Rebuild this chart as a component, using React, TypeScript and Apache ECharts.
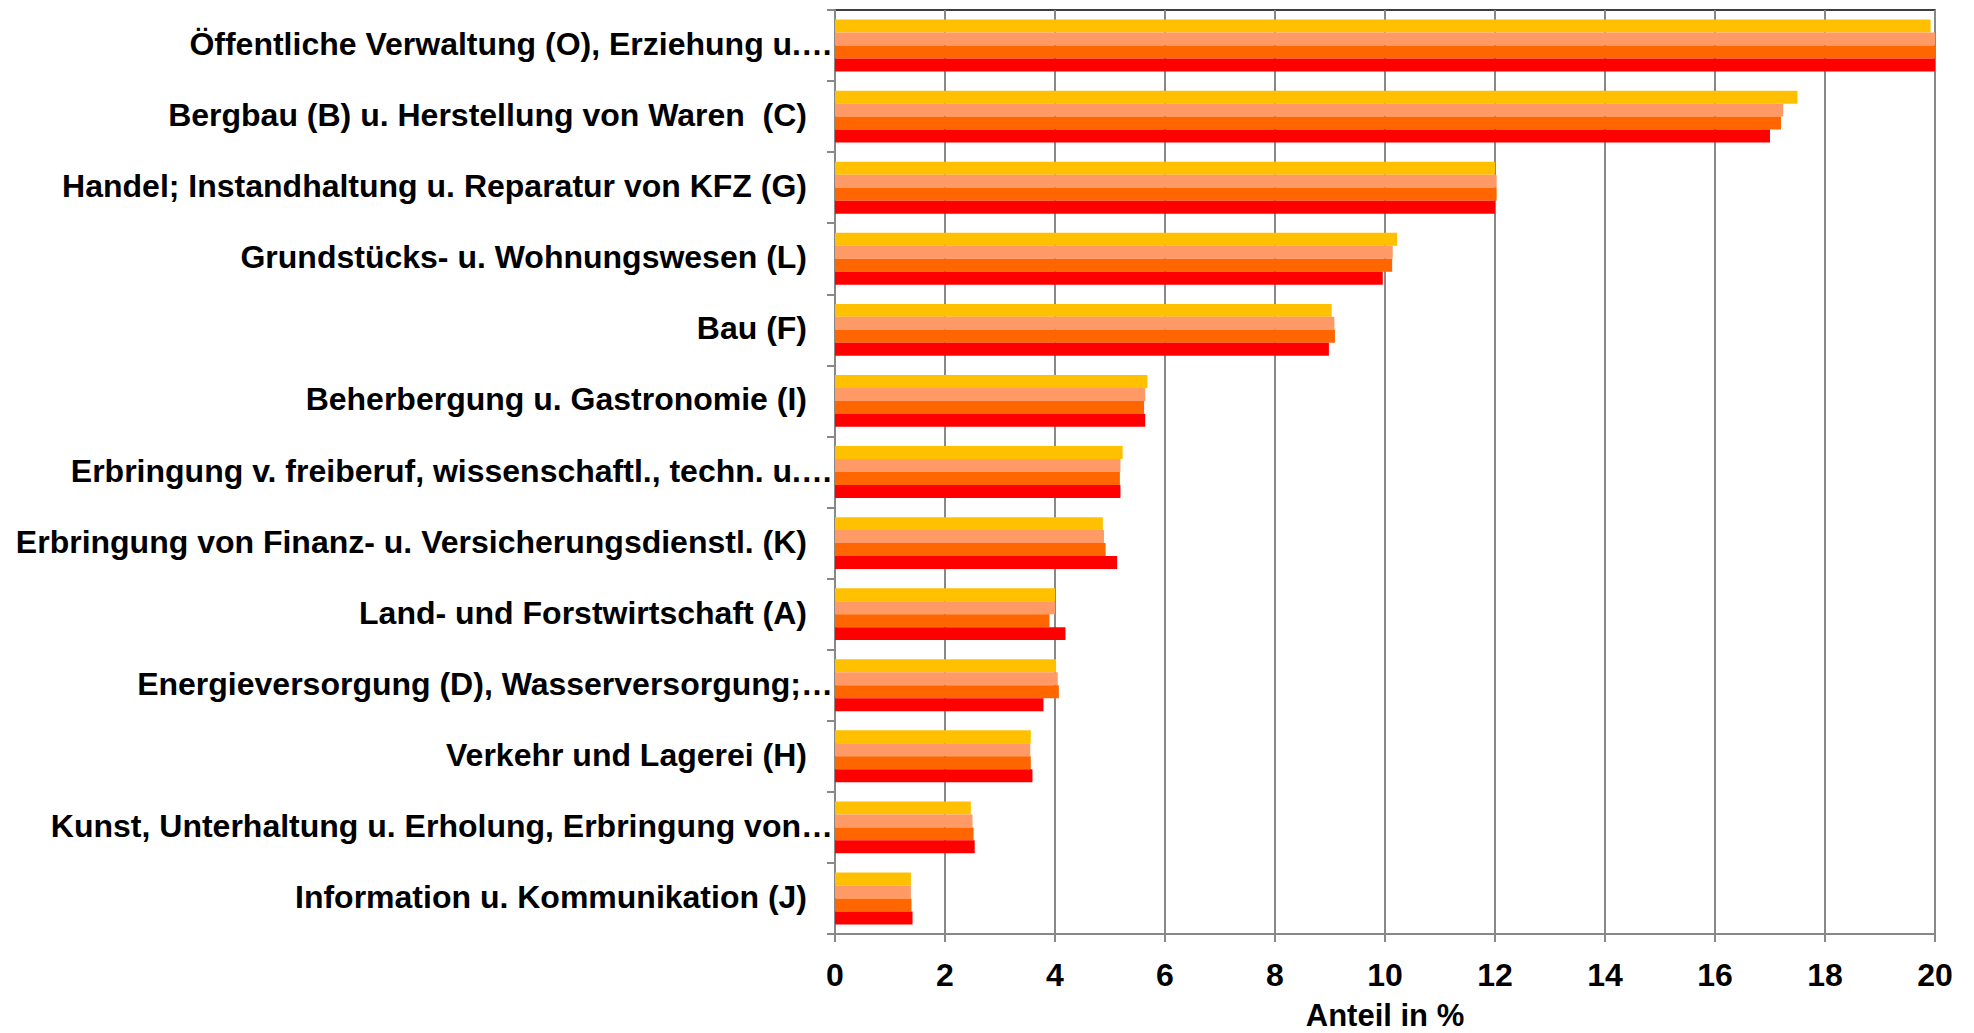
import React, { useEffect, useRef } from "react";
import * as echarts from "echarts";

const categories = [
  "Öffentliche Verwaltung (O), Erziehung u.…",
  "Bergbau (B) u. Herstellung von Waren  (C)",
  "Handel; Instandhaltung u. Reparatur von KFZ (G)",
  "Grundstücks- u. Wohnungswesen (L)",
  "Bau (F)",
  "Beherbergung u. Gastronomie (I)",
  "Erbringung v. freiberuf, wissenschaftl., techn. u.…",
  "Erbringung von Finanz- u. Versicherungsdienstl. (K)",
  "Land- und Forstwirtschaft (A)",
  "Energieversorgung (D), Wasserversorgung;…",
  "Verkehr und Lagerei (H)",
  "Kunst, Unterhaltung u. Erholung, Erbringung von…",
  "Information u. Kommunikation (J)",
];

const seriesYellow = [19.92, 17.5, 12.0, 10.22, 9.03, 5.68, 5.23, 4.87, 4.0, 4.02, 3.56, 2.47, 1.38];
const seriesSalmon = [20.0, 17.24, 12.03, 10.14, 9.08, 5.64, 5.19, 4.89, 4.0, 4.05, 3.55, 2.5, 1.38];
const seriesOrange = [20.0, 17.2, 12.03, 10.13, 9.09, 5.62, 5.18, 4.92, 3.9, 4.07, 3.56, 2.52, 1.39];
const seriesRed = [20.0, 17.0, 12.0, 9.96, 8.98, 5.64, 5.19, 5.13, 4.19, 3.79, 3.59, 2.54, 1.41];

const xTicks = [0, 2, 4, 6, 8, 10, 12, 14, 16, 18, 20];

const colors = ["#FFC000", "#FF9966", "#FF6600", "#FF0000"];
const FONT = "'Liberation Sans', Arial, sans-serif";

export default function App() {
  const ref = useRef<HTMLDivElement>(null);
  useEffect(() => {
    document.body.style.margin = "0";
    const chart = echarts.init(ref.current!, null, { renderer: "svg" });
    const mk = (name: string, data: number[], color: string) => ({
      name,
      type: "bar",
      data,
      barGap: "0%",
      barCategoryGap: "27%",
      itemStyle: { color },
      emphasis: { disabled: true },
    });
    chart.setOption({
      animation: false,
      backgroundColor: "#ffffff",
      grid: {
        left: 835,
        right: 39,
        top: 10,
        bottom: 99,
        outerBoundsMode: "none",
        containLabel: false,
        show: true,
        borderColor: "#000",
        borderWidth: 1.5,
        backgroundColor: "transparent",
      },
      xAxis: {
        type: "value",
        min: xTicks[0],
        max: xTicks[xTicks.length - 1],
        interval: 2,
        name: "Anteil in %",
        nameLocation: "middle",
        nameGap: 66,
        nameTextStyle: { fontFamily: FONT, fontWeight: "bold", fontSize: 31, color: "#000" },
        axisLine: { show: true, lineStyle: { color: "#888", width: 2 } },
        axisTick: { show: true, length: 8, lineStyle: { color: "#888", width: 2 } },
        axisLabel: { fontFamily: FONT, fontWeight: "bold", fontSize: 32, color: "#000", margin: 25 },
        splitLine: { show: true, lineStyle: { color: "#888", width: 2 } },
      },
      yAxis: {
        type: "category",
        data: categories,
        inverse: true,
        axisLine: { show: true, lineStyle: { color: "#888", width: 2 } },
        axisTick: { show: true, length: 8, lineStyle: { color: "#888", width: 2 } },
        axisLabel: {
          margin: 0,
          formatter: (v: string) => (v.endsWith("…") ? `{t|${v}}` : `{n|${v}}`),
          rich: {
            n: { fontFamily: FONT, fontWeight: "bold", fontSize: 32, color: "#000", padding: [0, 28, 3, 0] },
            t: { fontFamily: FONT, fontWeight: "bold", fontSize: 32, color: "#000", padding: [0, 2, 3, 0] },
          },
        },
        splitLine: { show: false },
      },
      series: [
        mk("s1", seriesYellow, colors[0]),
        mk("s2", seriesSalmon, colors[1]),
        mk("s3", seriesOrange, colors[2]),
        mk("s4", seriesRed, colors[3]),
      ],
    });
    return () => chart.dispose();
  }, []);
  return (
    <div
      ref={ref}
      style={{ position: "absolute", left: 0, top: 0, width: 1974, height: 1033 }}
    />
  );
}
